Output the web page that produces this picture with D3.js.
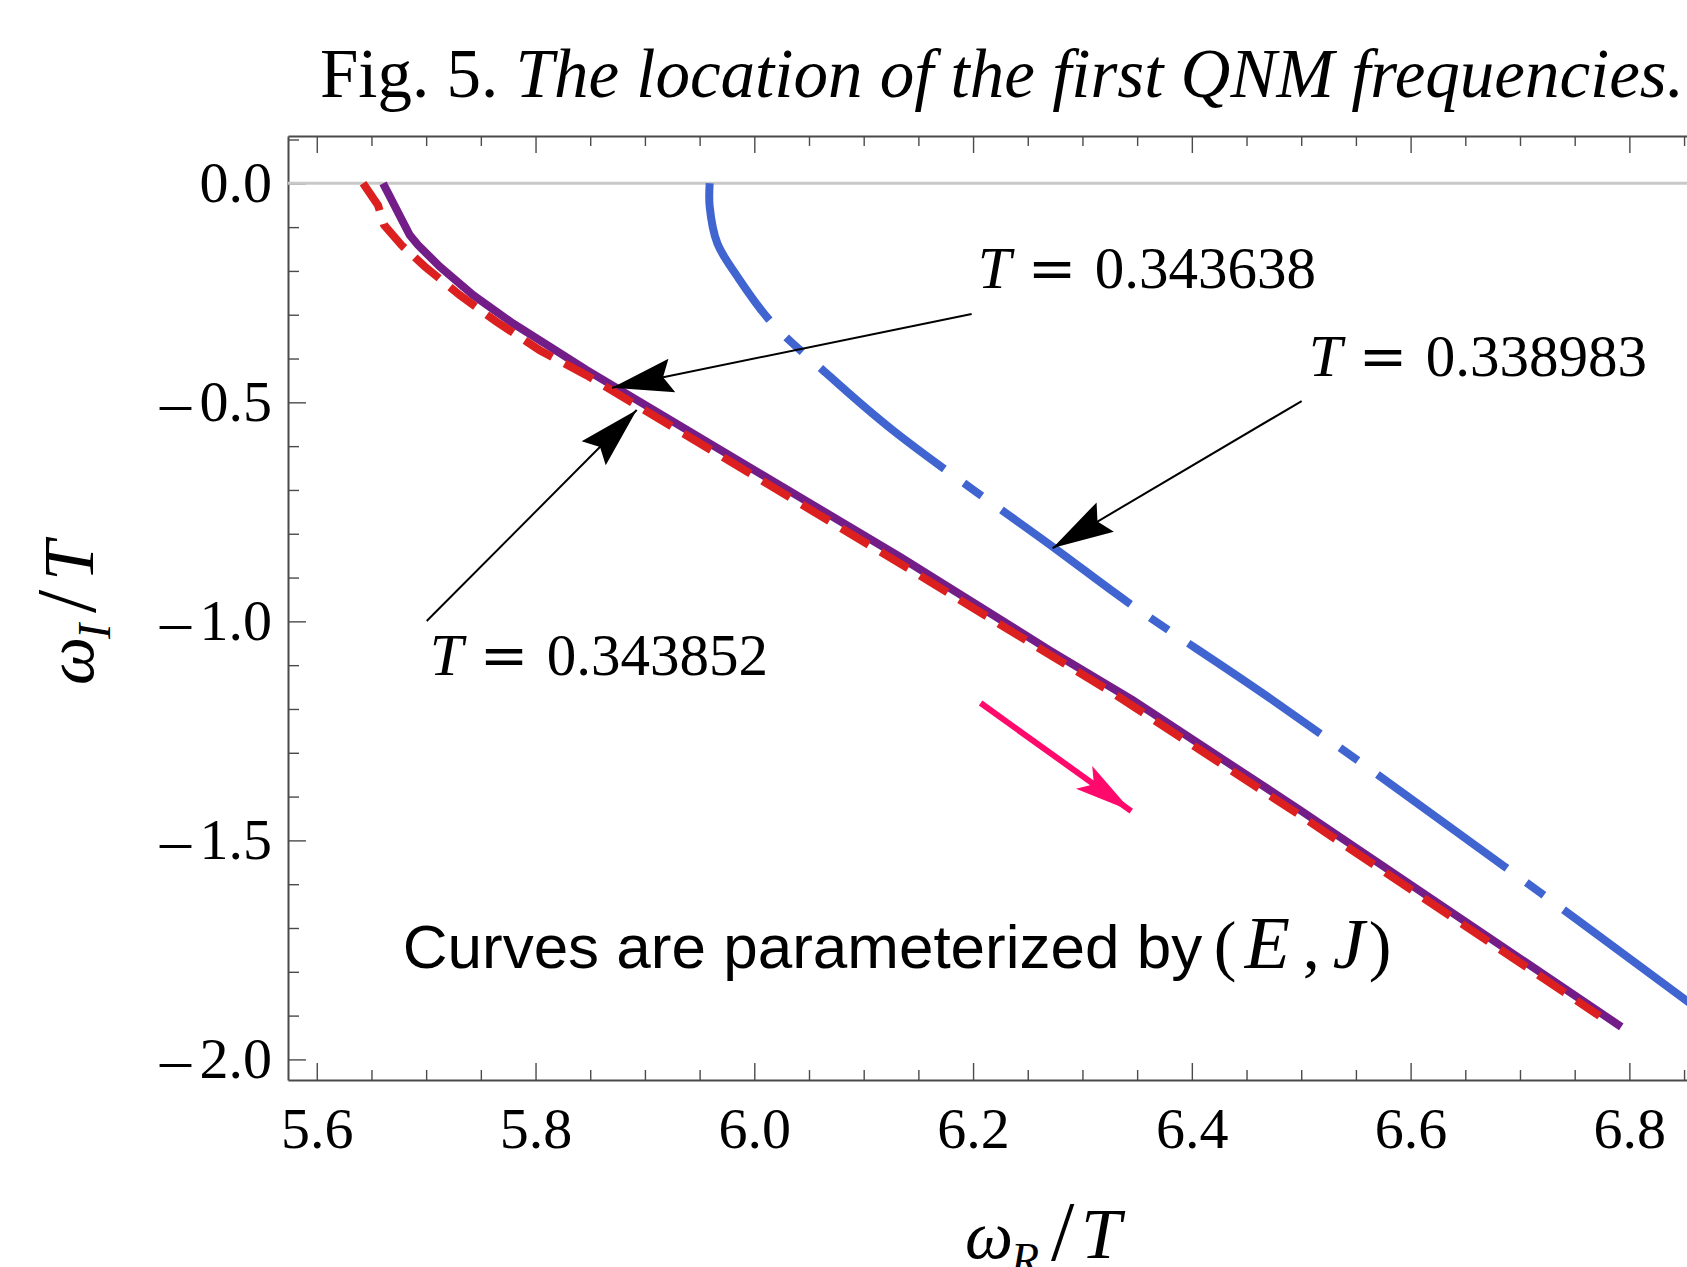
<!DOCTYPE html>
<html>
<head>
<meta charset="utf-8">
<script src="https://cdn.jsdelivr.net/npm/d3@7"></script>
<style>
  body { margin: 0; background: #fff; }
  svg { display: block; }
  text { font-family: "Liberation Serif", "Times New Roman", serif; white-space: pre; }
</style>
</head>
<body>
<div id="myChart"></div>
<script>
// curves: omega_R/T (x) and omega_I/T (y)
let purpleX = [5.6606, 5.685, 5.6926, 5.7124, 5.7429, 5.7794, 5.813, 5.8465, 6.133, 6.270, 6.346, 6.4985, 6.7926];
let purpleY = [0, -0.118, -0.141, -0.190, -0.255, -0.320, -0.373, -0.426, -0.8525, -1.066, -1.180, -1.430, -1.9256];

let redX = [5.6423, 5.656, 5.6615, 5.6774, 5.6987, 5.7307, 5.7643, 5.8038, 5.8465, 6.133, 6.328, 6.4985, 6.7728];
let redY = [0, -0.050, -0.095, -0.141, -0.190, -0.255, -0.316, -0.381, -0.438, -0.8676, -1.164, -1.442, -1.901];

let blueX = [5.9592, 5.9592, 5.9662, 5.9846, 6.0152, 6.0625, 6.1265, 6.2746, 6.343, 6.474, 6.686, 6.86];
let blueY = [0, -0.053, -0.137, -0.213, -0.316, -0.426, -0.5635, -0.833, -0.959, -1.180, -1.560, -1.880];

// ticks
let xMajor = [5.6, 5.8, 6.0, 6.2, 6.4, 6.6, 6.8];
let xMinor = [5.65, 5.7, 5.75, 5.85, 5.9, 5.95, 6.05, 6.1, 6.15, 6.25, 6.3, 6.35,
              6.45, 6.5, 6.55, 6.65, 6.7, 6.75, 6.85];
let yMajor = [0, -0.5, -1.0, -1.5, -2.0];
let yMinor = [0.1, -0.1, -0.2, -0.3, -0.4, -0.6, -0.7, -0.8, -0.9, -1.1, -1.2, -1.3, -1.4,
              -1.6, -1.7, -1.8, -1.9];

// annotations (data coordinates)
let labelValues = ["0.343638", "0.338983", "0.343852"];
let labelAt = [[6.2042, -0.239], [6.5068, -0.441], [5.7033, -1.1226]];
let arrowFrom = [[6.1987, -0.2984], [6.5004, -0.497], [5.7005, -0.9993]];
let arrowTo = [[5.870, -0.4667], [6.2728, -0.8326], [5.8925, -0.5176]];
let pinkFrom = [6.2069, -1.1865];
let pinkTo = [6.3446, -1.4331];
let noteAt = [5.6786, -1.792];

let margin = {top: 136, left: 288},
    width = 1407,
    height = 944;

let svg = d3.select("#myChart")
    .append("svg")
        .attr("width", 1687)
        .attr("height", 1267);

// title
let title = svg.append("text")
    .attr("x", 320).attr("y", 97)
    .style("font-size", "69px");
title.append("tspan").text("Fig. 5. ");
title.append("tspan").style("font-style", "italic")
    .text("The location of the first QNM frequencies.");

let defs = svg.append("defs");
defs.append("clipPath").attr("id", "plotClip")
    .append("rect").attr("width", width).attr("height", height);

function addHead(id, color, len, notch, half) {
    defs.append("marker").attr("id", id)
        .attr("markerUnits", "userSpaceOnUse")
        .attr("viewBox", (-len - 5) + " " + (-half - 5) + " " + (len + 10) + " " + (2 * half + 10))
        .attr("markerWidth", len + 10)
        .attr("markerHeight", 2 * half + 10)
        .attr("refX", 0).attr("refY", 0)
        .attr("orient", "auto")
        .append("path")
            .attr("d", "M0,0L" + (-len) + "," + (-half) + "L" + (-notch) + ",0L" + (-len) + "," + half + "Z")
            .attr("fill", color);
}
addHead("blackHead", "#000", 61, 52, 17);
addHead("pinkHead", "#ff0a6c", 58, 46, 14);

let g = svg.append("g")
    .attr("transform", "translate(" + margin.left + "," + margin.top + ")");

let x = d3.scaleLinear()
    .domain([5.5737, 6.86])
    .range([0, width]);

let y = d3.scaleLinear()
    .domain([0.108, -2.047])
    .range([0, height]);

let frameColor = "#4a4a4a";
let fmt = d3.format(".1f");

// bottom axis with labels
g.append("g")
    .attr("transform", "translate(0," + height + ")")
    .call(d3.axisBottom(x).tickValues(xMajor).tickSize(-17).tickSizeOuter(0)
        .tickPadding(27).tickFormat(fmt));
g.append("g")
    .attr("transform", "translate(0," + height + ")")
    .call(d3.axisBottom(x).tickValues(xMinor).tickSize(-10).tickSizeOuter(0).tickFormat(""))
    .call(a => a.select(".domain").remove());

// top axis (ticks only)
g.append("g")
    .call(d3.axisTop(x).tickValues(xMajor).tickSize(-17).tickSizeOuter(0).tickFormat(""));
g.append("g")
    .call(d3.axisTop(x).tickValues(xMinor).tickSize(-10).tickSizeOuter(0).tickFormat(""))
    .call(a => a.select(".domain").remove());

// left axis with labels
let leftAxis = g.append("g")
    .call(d3.axisLeft(y).tickValues(yMajor).tickSize(-18).tickSizeOuter(0)
        .tickPadding(16).tickFormat(function (d) { return fmt(Math.abs(d)); }));
g.append("g")
    .call(d3.axisLeft(y).tickValues(yMinor).tickSize(-11).tickSizeOuter(0).tickFormat(""))
    .call(a => a.select(".domain").remove());

g.selectAll(".domain").attr("stroke", frameColor).attr("stroke-width", 2);
g.selectAll(".tick line").attr("stroke", frameColor).attr("stroke-width", 1.4);
g.selectAll(".tick text")
    .attr("fill", "#000")
    .style("font-family", "'Liberation Serif', serif")
    .style("font-size", "58px");

// long thin minus signs in front of the negative y labels
leftAxis.selectAll(".tick").filter(function (d) { return d < 0; })
    .append("text")
        .attr("x", -97).attr("dy", "0.32em")
        .attr("text-anchor", "end")
        .attr("fill", "#000")
        .style("font-size", "62px")
        .text("\u2013");

// zero line
g.append("line")
    .attr("x1", 0).attr("x2", width)
    .attr("y1", y(0)).attr("y2", y(0))
    .attr("stroke", "#c8c8c8").attr("stroke-width", 3);

let line = d3.line()
    .x(function (d) { return x(d[0]); })
    .y(function (d) { return y(d[1]); });

let smooth = d3.line()
    .curve(d3.curveCatmullRom)
    .x(function (d) { return x(d[0]); })
    .y(function (d) { return y(d[1]); });

let curves = g.append("g").attr("clip-path", "url(#plotClip)");

curves.append("path")
    .datum(d3.zip(blueX, blueY))
    .attr("d", smooth)
    .attr("fill", "none")
    .attr("stroke", "#4064d0")
    .attr("stroke-width", 8)
    .attr("stroke-dasharray", "160,24,22,24")
    .attr("stroke-dashoffset", 6);

curves.append("path")
    .datum(d3.zip(purpleX, purpleY))
    .attr("d", line)
    .attr("fill", "none")
    .attr("stroke", "#731d88")
    .attr("stroke-width", 8);

curves.append("path")
    .datum(d3.zip(redX, redY))
    .attr("d", line)
    .attr("fill", "none")
    .attr("stroke", "#dc2020")
    .attr("stroke-width", 8)
    .attr("stroke-dasharray", "32,14");

// annotation arrows
arrowFrom.forEach(function (p, i) {
    g.append("line")
        .attr("x1", x(p[0])).attr("y1", y(p[1]))
        .attr("x2", x(arrowTo[i][0])).attr("y2", y(arrowTo[i][1]))
        .attr("stroke", "#000").attr("stroke-width", 2)
        .attr("marker-end", "url(#blackHead)");
});

g.append("line")
    .attr("x1", x(pinkFrom[0])).attr("y1", y(pinkFrom[1]))
    .attr("x2", x(pinkTo[0])).attr("y2", y(pinkTo[1]))
    .attr("stroke", "#ff0a6c").attr("stroke-width", 6)
    .attr("marker-end", "url(#pinkHead)");

// T = ... labels
labelAt.forEach(function (p, i) {
    let lx = x(p[0]), ly = y(p[1]);
    g.append("text").attr("x", lx).attr("y", ly)
        .style("font-size", "60px").style("font-style", "italic").text("T");
    g.append("text").attr("x", lx + 50).attr("y", ly)
        .style("font-family", "'DejaVu Serif', serif")
        .style("font-size", "58px").text("=");
    g.append("text").attr("x", lx + 117).attr("y", ly)
        .style("font-size", "59px").text(labelValues[i]);
});

// note
let nx = x(noteAt[0]), ny = y(noteAt[1]);
g.append("text")
    .attr("x", nx).attr("y", ny)
    .style("font-family", "'Liberation Sans', Arial, sans-serif")
    .style("font-size", "62px")
    .text("Curves are parameterized by");
let math = [["(", "normal", 811, 68], ["E", "italic", 842, 74], [",", "normal", 900, 68],
            ["J", "italic", 930, 72], [")", "normal", 966, 68]];
math.forEach(function (m) {
    g.append("text")
        .attr("x", nx + m[2]).attr("y", ny)
        .style("font-size", m[3] + "px")
        .style("font-style", m[1])
        .text(m[0]);
});

// axis titles
function axisTitle(sel, sub, pos) {
    sel.append("text").attr("x", pos[0]).attr("y", 0)
        .style("font-size", "68px").style("font-style", "italic").text("ω");
    sel.append("text").attr("x", pos[1]).attr("y", 17)
        .style("font-size", "46px").style("font-style", "italic").text(sub);
    sel.append("text").attr("x", pos[2]).attr("y", 2)
        .style("font-size", "84px").text("/");
    sel.append("text").attr("x", pos[3]).attr("y", 0)
        .style("font-size", "72px").style("font-style", "italic").text("T");
}
axisTitle(svg.append("g").attr("transform", "translate(965,1258)"), "R", [0, 46, 86, 116]);
axisTitle(svg.append("g").attr("transform", "translate(93,685) rotate(-90)"), "I", [0, 46, 72, 104]);
</script>
</body>
</html>
